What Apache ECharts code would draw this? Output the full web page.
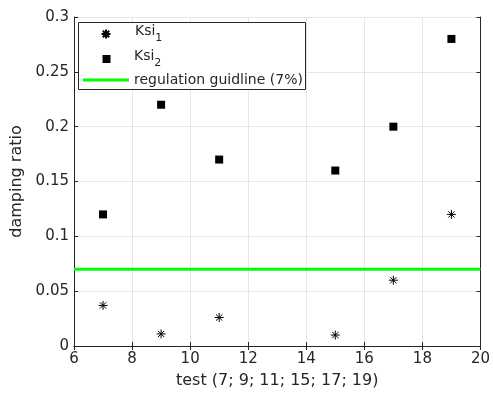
<!DOCTYPE html>
<html><head><meta charset="utf-8">
<script src="https://cdn.jsdelivr.net/npm/echarts@6/dist/echarts.min.js"></script>
<style>html,body{margin:0;padding:0;background:#fff}#c{width:493px;height:394px}</style>
</head><body><div id="c"></div>
<script>
const tests = [7, 9, 11, 15, 17, 19];
const ksi1 = [0.037, 0.011, 0.026, 0.010, 0.060, 0.120];
const ksi2 = [0.12, 0.22, 0.17, 0.16, 0.20, 0.28];
const guideline = 0.07;
const xRange = [6, 20];
const yRange = [0, 0.3];

const FONT = 'DejaVu Sans';
const TXT = '#262626';
const starPath = 'path://M5,0L5,10M0,5L10,5M1.5,1.5L8.5,8.5M1.5,8.5L8.5,1.5';
// legend icons padded to the full icon box so the marker sits centred
const starIcon = 'path://M0,0M46,9M22,0L22,9M17.5,4.5L26.5,4.5M18.8,1.3L25.2,7.7M18.8,7.7L25.2,1.3';
const squareIcon = 'path://M0,0M46,8M19.5,0L27.5,0L27.5,8L19.5,8Z';
const rich = {
  a: {fontFamily: FONT, fontSize: 14, color: TXT, verticalAlign: 'top'},
  b: {fontFamily: FONT, fontSize: 11, color: TXT, padding: [9, 0, 0, 0]}
};
const chart = echarts.init(document.getElementById('c'));
const axisCommon = {
  axisLine: {show: true, lineStyle: {color: TXT, width: 1}},
  axisTick: {show: true, inside: true, length: 4, lineStyle: {color: TXT}},
};
chart.setOption({
  animation: false,
  grid: {left: 74, right: 8, top: 17, bottom: 47},
  xAxis: [{
    type: 'value', min: xRange[0], max: xRange[1], interval: 2,
    name: 'test (7; 9; 11; 15; 17; 19)', nameLocation: 'middle', nameGap: 27,
    nameTextStyle: {fontFamily: FONT, fontSize: 16, color: TXT},
    axisLabel: {fontFamily: FONT, fontSize: 15, color: TXT, margin: 6},
    splitLine: {show: true, lineStyle: {color: '#e6e6e6'}},
    ...axisCommon
  }, {
    type: 'value', position: 'top', min: xRange[0], max: xRange[1], interval: 2,
    axisLabel: {show: false}, splitLine: {show: false}, ...axisCommon
  }],
  yAxis: [{
    type: 'value', min: yRange[0], max: yRange[1], interval: 0.05,
    name: 'damping ratio', nameLocation: 'middle', nameGap: 46,
    nameTextStyle: {fontFamily: FONT, fontSize: 16, color: TXT},
    axisLabel: {fontFamily: FONT, fontSize: 15, color: TXT, margin: 5},
    splitLine: {show: true, lineStyle: {color: '#e6e6e6'}},
    ...axisCommon
  }, {
    type: 'value', position: 'right', min: yRange[0], max: yRange[1], interval: 0.05,
    axisLabel: {show: false}, splitLine: {show: false}, ...axisCommon
  }],
  graphic: [{
    type: 'rect', z: 3, left: 78, top: 22,
    shape: {width: 227, height: 67},
    style: {fill: '#fff', stroke: TXT, lineWidth: 1}
  }],
  legend: [
    {data: [{name: 'Ksi1', icon: starIcon}], orient: 'vertical', left: 83, top: 24, padding: 0,
     itemWidth: 46, itemHeight: 9, z: 5,
     formatter: () => '{a|Ksi}{b|1}', textStyle: {rich: rich}},
    {data: [{name: 'Ksi2', icon: squareIcon}], orient: 'vertical', left: 83, top: 49, padding: 0,
     itemWidth: 46, itemHeight: 8, z: 5,
     formatter: () => '{a|Ksi}{b|2}', textStyle: {rich: rich}},
    {data: [{name: 'regulation guidline (7%)', icon: 'rect'}], orient: 'vertical', left: 83, top: 73, padding: 0,
     itemWidth: 46, itemHeight: 3, z: 5,
     textStyle: {fontFamily: FONT, fontSize: 14, color: TXT}}
  ],
  series: [
    {name: 'Ksi1', type: 'scatter', symbol: starPath, symbolSize: 9, z: 4,
     itemStyle: {color: 'rgba(0,0,0,0)', borderColor: '#000', borderWidth: 1, opacity: 1},
     data: tests.map((t, i) => [t, ksi1[i]])},
    {name: 'Ksi2', type: 'scatter', symbol: 'rect', symbolSize: 8, z: 4,
     itemStyle: {color: '#000', opacity: 1},
     data: tests.map((t, i) => [t, ksi2[i]])},
    {name: 'regulation guidline (7%)', type: 'line', symbol: 'none', z: 2,
     lineStyle: {color: '#00ff00', width: 3}, itemStyle: {color: '#00ff00'},
     data: xRange.map(x => [x, guideline])}
  ]
});
</script></body></html>
